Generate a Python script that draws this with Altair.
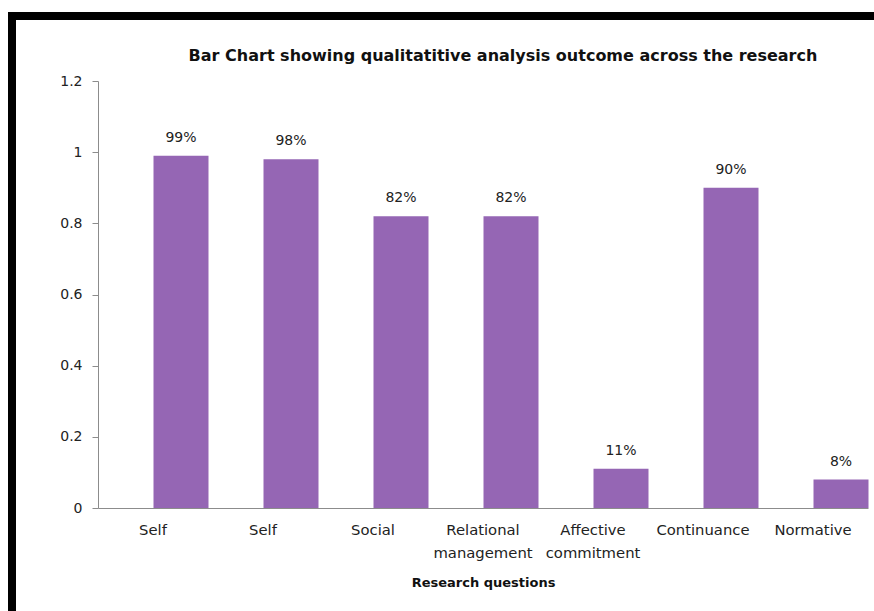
import altair as alt
import pandas as pd

categories = ["Self", "Self ", "Social", "Relational management", "Affective commitment", "Continuance", "Normative"]
values = [0.99, 0.98, 0.82, 0.82, 0.11, 0.90, 0.08]
labels = ["99%", "98%", "82%", "82%", "11%", "90%", "8%"]

df = pd.DataFrame({"cat": categories, "val": values, "lab": labels})

label_expr = ("datum.value == 'Relational management' ? ['Relational', 'management'] : "
              "datum.value == 'Affective commitment' ? ['Affective', 'commitment'] : datum.value")

x = alt.X("cat:N", sort=categories, title="Research questions",
          scale=alt.Scale(paddingInner=0.5, paddingOuter=0.25),
          axis=alt.Axis(labelAngle=0, labelExpr=label_expr, ticks=False, domainColor="#8c8c8c",
                        labelFont="DejaVu Sans", labelFontSize=14.8, labelColor="#222",
                        labelPadding=14, labelLineHeight=23,
                        titleFont="DejaVu Sans", titleFontSize=13, titleFontWeight="bold",
                        titleColor="#111", titlePadding=17))
y = alt.Y("val:Q", title=None,
          scale=alt.Scale(domain=[0, 1.2], nice=False),
          axis=alt.Axis(values=[0, 0.2, 0.4, 0.6, 0.8, 1.0, 1.2], format="~g", grid=False,
                        domainColor="#8c8c8c", tickColor="#8c8c8c", tickSize=6,
                        labelFont="DejaVu Sans", labelFontSize=14, labelColor="#222",
                        labelPadding=10))

base = alt.Chart(df)
bars = base.mark_bar(color="#9566B4", xOffset=28, width=55).encode(x=x, y=y)
text = base.mark_text(xOffset=28, dy=-11, baseline="bottom", font="DejaVu Sans",
                      fontSize=14, color="#222").encode(x=x, y=y, text="lab:N")

top_border = alt.Chart(df).mark_rule(color="#000", strokeWidth=8).encode(
    x=alt.value(-90), x2=alt.value(790), y=alt.value(-65))
left_border = alt.Chart(df).mark_rule(color="#000", strokeWidth=8).encode(
    x=alt.value(-86), y=alt.value(-69), y2=alt.value(540))

chart = alt.layer(bars, text, top_border, left_border).properties(
    width=770, height=427,
    title=alt.Title("Bar Chart showing qualitatitive analysis outcome across the research",
                    font="DejaVu Sans", fontSize=16, fontWeight="bold", color="#111",
                    anchor="middle", dx=20, offset=0, dy=56),
    autosize=alt.AutoSizeParams(type="none"),
    padding={"left": 98, "top": 81, "right": 6, "bottom": 103},
).configure_view(stroke=None)

chart.save("out.html", embed_options={"renderer": "svg", "actions": False})
